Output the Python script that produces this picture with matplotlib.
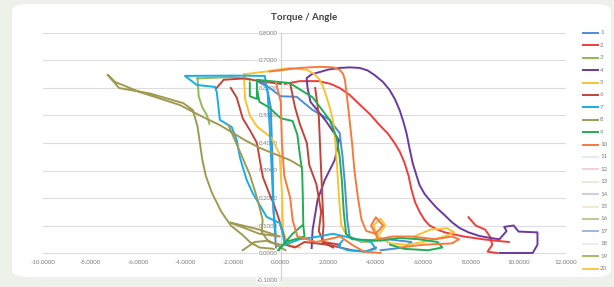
import numpy as np
import matplotlib
matplotlib.use("Agg")
import matplotlib.pyplot as plt
from matplotlib.patches import FancyBboxPatch
from matplotlib.lines import Line2D

nan = float("nan")

TITLE = "Torque / Angle"
SERIES_NAMES = [str(i) for i in range(1, 21)]
COLORS = ["#4a8fd6", "#f23b3b", "#8fbb52", "#6b3a9e", "#f7c233",
          "#c2433a", "#14aee8", "#a09a52", "#22ad55", "#f57a3c",
          "#e4ebf5", "#f1d2d2", "#e3ecd3", "#d6cadf", "#f3ead0",
          "#c9c291", "#9fb8e2", "#ececec", "#9cc060", "#f8c850"]
X_TICKS = [-10, -8, -6, -4, -2, 0, 2, 4, 6, 8, 10, 12]
Y_TICKS = [-0.1, 0.0, 0.1, 0.2, 0.3, 0.4, 0.5, 0.6, 0.7, 0.8]

S1_X = [-0.2, -0.3, -0.35, -0.42, -0.6, -0.9, nan,
        -0.9, -0.46, 0.0, 0.67, 1.34, 2.06, 2.48, 2.6, 2.7, 2.8, 2.9, 3.4, 4.5, 5.5, 5.2, 4.2]
S1_Y = [0.02, 0.15, 0.35, 0.53, 0.61, 0.625, nan,
        0.62, 0.6, 0.57, 0.568, 0.52, 0.484, 0.436, 0.35, 0.25, 0.12, 0.06, 0.04, 0.05, 0.04, 0.02, 0.01]

S2_X = [0.17, 0.8, 1.6, 2.1, 2.48, 2.9, 3.32, 3.75, 4.16, 4.5, 4.79, 5.0, 5.2, 5.38, 5.5, 5.65, 5.84,
        6.05, 6.26, 6.6, 6.9, 7.7, 8.5, 9.0, 9.6, nan,
        7.9, 8.2, 8.6, 8.8, 8.9, 8.7, 9.1]
S2_Y = [0.615, 0.625, 0.625, 0.615, 0.6, 0.575, 0.54, 0.505, 0.465, 0.435, 0.4, 0.37, 0.33, 0.28, 0.23,
        0.185, 0.15, 0.12, 0.1, 0.085, 0.075, 0.06, 0.05, 0.045, 0.04, nan,
        0.13, 0.1, 0.085, 0.06, 0.03, 0.005, 0.0]

S3_X = [-3.5, -2.0, -1.3, nan, -3.5, -3.45, -3.3, -3.1, -3.0]
S3_Y = [0.635, 0.64, 0.63, nan, 0.635, 0.57, 0.53, 0.5, 0.47]

S4_X = [1.3, 1.34, 1.55, 1.85, 2.27, 2.45, 1.9, 1.25, 1.13, 1.09, 1.3, 1.64, 2.0, 2.48, 2.9, 3.32,
        3.65, 3.95, 4.3, 4.58, 4.8, 5.0, 5.15, 5.29, 5.42, 5.55, 5.7, 5.84, 6.05, 6.26, 6.55, 6.89,
        7.2, 7.52, 7.9, 8.36, 8.8, 9.2, 9.5, 9.4, 9.8, 10.0, 10.5, 10.8, 10.8, 10.6, 9.8, 9.2]
S4_Y = [0.018, 0.084, 0.193, 0.265, 0.338, 0.41, 0.48, 0.55, 0.6, 0.636, 0.65, 0.658, 0.667, 0.673,
        0.675, 0.673, 0.664, 0.647, 0.622, 0.593, 0.56, 0.52, 0.48, 0.436, 0.38, 0.327, 0.285, 0.247,
        0.215, 0.193, 0.165, 0.138, 0.112, 0.091, 0.075, 0.062, 0.055, 0.05, 0.08, 0.095, 0.1, 0.078,
        0.076, 0.075, 0.03, 0.0, 0.0, 0.0]

S5_X = [-1.55, -0.6, 0.38, 1.09, 1.4, 1.64, 1.8, 1.93, 2.08, 2.2, 2.3, 2.38, 2.45, 2.55, 2.8, 3.5,
        4.0, 4.4, 4.2, 3.9, 4.1, 4.6, 5.3, 6.0, 6.9, 7.3, 7.0, 6.3, 5.6, nan,
        -1.55, -1.5, -1.3, -1.0, -0.4, -0.05, 0.05, 0.1, 0.3, 0.8]
S5_Y = [0.65, 0.66, 0.673, 0.666, 0.652, 0.63, 0.6, 0.567, 0.525, 0.48, 0.4, 0.3, 0.2, 0.1, 0.06, 0.04,
        0.05, 0.1, 0.125, 0.1, 0.06, 0.035, 0.03, 0.04, 0.06, 0.075, 0.09, 0.085, 0.06, nan,
        0.65, 0.56, 0.5, 0.46, 0.42, 0.36, 0.22, 0.08, 0.03, 0.02]

S6_X = [-2.7, -2.4, -1.5, -0.9, 0.0, nan,
        -2.1, -1.85, -1.6, -1.3, -1.0, -0.88, -0.75, -0.5, -0.3, -0.1, 0.1, 0.2, 0.6, 1.0, 2.0, 3.0,
        3.6, 4.0, nan,
        0.4, 0.6, 0.8, 1.1, 1.2, 1.5, 1.7, 1.6, 1.8, 2.5, nan,
        1.45, 1.6, 1.65, 1.7, 1.75, 1.8, 1.75, 2.2]
S6_Y = [0.6, 0.63, 0.635, 0.625, 0.615, nan,
        0.6, 0.565, 0.49, 0.447, 0.4, 0.338, 0.276, 0.22, 0.18, 0.13, 0.07, 0.03, 0.02, 0.04, 0.03, 0.01,
        0.005, 0.02, nan,
        0.615, 0.53, 0.47, 0.4, 0.32, 0.25, 0.15, 0.08, 0.04, 0.03, nan,
        0.6, 0.5, 0.4, 0.3, 0.2, 0.1, 0.04, 0.02]

S7_X = [-0.2, -0.3, -0.38, -0.46, -0.55, -0.67, -2.0, -4.03, -3.53, -2.77, -2.69, -2.56, -2.06, -1.85,
        -1.72, -1.6, -1.43, -1.18, -0.59, -0.04, 0.08, 0.17, 0.8, 1.6, 2.2, 2.7, 3.2, 3.8, 4.0, 3.5,
        2.8, 2.4, 2.6]
S7_Y = [0.06, 0.15, 0.3, 0.45, 0.58, 0.644, 0.645, 0.644, 0.611, 0.604, 0.585, 0.484, 0.458, 0.411,
        0.349, 0.313, 0.265, 0.218, 0.131, 0.109, 0.073, 0.03, 0.05, 0.06, 0.07, 0.06, 0.05, 0.04, 0.015,
        0.005, 0.01, 0.025, 0.045]

S8_X = [-7.27, -6.97, -5.92, -4.24, -3.4, -2.56, -1.5, -0.88, 0.38, 0.88, nan,
        -7.27, -6.8, -5.5, -4.1, -3.7, -3.5, -3.4, -3.3, -3.15, -2.9, -2.5, -2.1, -1.6, -1.3, -0.9, -0.3, nan,
        -2.2, -1.75, -1.3, -0.97, -0.76, -0.8, -0.5, 0.0, nan,
        -2.1, -1.5, -0.9, -0.04, -0.9, -1.6, -2.1, nan,
        -1.6, -1.1, -0.5, 0.2]
S8_Y = [0.647, 0.622, 0.585, 0.538, 0.5, 0.465, 0.41, 0.382, 0.338, 0.313, nan,
        0.647, 0.6, 0.58, 0.545, 0.52, 0.46, 0.4, 0.34, 0.28, 0.22, 0.15, 0.1, 0.065, 0.04, 0.02, 0.015, nan,
        0.465, 0.375, 0.285, 0.193, 0.12, 0.076, 0.04, 0.03, nan,
        0.11, 0.09, 0.07, 0.06, 0.085, 0.1, 0.11, nan,
        0.01, 0.04, 0.045, 0.01]

S9_X = [-1.3, -1.3, -1.0, -1.0, 0.38, 1.34, 2.06, 2.35, 2.48, 2.57, 2.65, 2.75, 3.0, 4.2, 5.0, 5.8,
        6.6, 6.8, 6.2, 5.2, 4.6, nan,
        -1.0, -0.9, -0.5, 0.0, 0.5, 0.7, 0.8, 0.9, 0.93, 0.95, 1.0, 0.6, 0.2, -0.1, 0.5, 0.9]
S9_Y = [0.62, 0.57, 0.56, 0.63, 0.618, 0.566, 0.484, 0.42, 0.349, 0.265, 0.15, 0.07, 0.05, 0.045,
        0.055, 0.05, 0.04, 0.02, 0.01, 0.015, 0.03, nan,
        0.6, 0.55, 0.53, 0.49, 0.48, 0.43, 0.36, 0.3, 0.2, 0.1, 0.06, 0.05, 0.04, 0.01, 0.07, 0.1]

S10_X = [-0.46, 0.8, 1.64, 2.2, 2.48, 2.62, 2.7, 2.85, 3.0, 3.1, 3.25, 3.4, 3.6, 4.0, 4.3, 4.0, 3.8,
         4.1, 4.7, 5.5, 6.5, 7.2, 7.5, 7.2, 6.0, 5.0, nan,
         -0.2, 0.0, 0.05, 0.15, 0.4, 0.5, 0.7, 1.5, 2.5, 3.0, 3.5, 4.2]
S10_Y = [0.66, 0.673, 0.677, 0.675, 0.666, 0.652, 0.63, 0.52, 0.4, 0.3, 0.2, 0.12, 0.08, 0.07, 0.1,
         0.13, 0.1, 0.05, 0.06, 0.06, 0.05, 0.06, 0.05, 0.035, 0.03, 0.02, nan,
         0.62, 0.55, 0.4, 0.28, 0.2, 0.12, 0.06, 0.04, 0.06, 0.03, 0.005, 0.0]

SERIES_X = [S1_X, S2_X, S3_X, S4_X, S5_X, S6_X, S7_X, S8_X, S9_X, S10_X] + [[] for _ in range(10)]
SERIES_Y = [S1_Y, S2_Y, S3_Y, S4_Y, S5_Y, S6_Y, S7_Y, S8_Y, S9_Y, S10_Y] + [[] for _ in range(10)]

W, H = 614, 287
plt.rcParams["font.family"] = ["Lato", "DejaVu Sans"]
fig = plt.figure(figsize=(W / 100, H / 100), dpi=100)
fig.patch.set_facecolor("#eef0ea")

card = FancyBboxPatch((12 / W, 10 / H), (599 / W), (273 / H),
                      boxstyle="round,pad=0,rounding_size=0.025",
                      transform=fig.transFigure, facecolor="white",
                      edgecolor="none", zorder=-10)
fig.patches.append(card)

ax = fig.add_axes([43 / W, (H - 280.5) / H, 523 / W, 247.5 / H])
ax.set_zorder(5)
ax.set_facecolor("none")
ax.set_xlim(-10, 12)
ax.set_ylim(-0.1, 0.8)

for yv in Y_TICKS:
    ax.axhline(yv, color="#dcdcdc", lw=0.8, zorder=1)
ax.axvline(0, color="#d0d0d0", lw=0.8, zorder=1)

for sp in ["top", "right", "left", "bottom"]:
    ax.spines[sp].set_visible(False)
ax.spines["left"].set_position(("data", 0))
ax.spines["bottom"].set_position(("data", 0))

ax.set_xticks(X_TICKS)
ax.set_yticks(Y_TICKS)
ax.set_xticklabels([f"{v:.4f}" for v in X_TICKS])
ax.set_yticklabels([f"{v:.4f}" for v in Y_TICKS])
ax.tick_params(axis="both", length=0, labelsize=4.4, labelcolor="#7a7a7a")
ax.tick_params(axis="x", pad=5)
ax.tick_params(axis="y", pad=2)
for lab in ax.get_yticklabels():
    lab.set_bbox(dict(facecolor="white", edgecolor="none", pad=0.6))

for name, col, xs, ys in zip(SERIES_NAMES, COLORS, SERIES_X, SERIES_Y):
    ax.plot(xs, ys, color=col, lw=1.4, zorder=3, solid_joinstyle="round", label=name)

fig.text(0.5 * (43 + 566) / W, 1 - 18 / H, TITLE, ha="center", va="center",
         fontsize=7, fontweight="bold", color="#404040")

# legend drawn entry by entry (fixed pitch as in the reference)
for i, (name, col) in enumerate(zip(SERIES_NAMES, COLORS)):
    yy = 1 - (33 + 12.4 * i) / H
    fig.add_artist(Line2D([583 / W, 598 / W], [yy, yy], transform=fig.transFigure,
                          color=col, lw=1.4))
    fig.text(600 / W, yy, name, ha="left", va="center", fontsize=4.4, color="#7a7a7a")

fig.savefig("out.png", dpi=100, facecolor=fig.get_facecolor())
